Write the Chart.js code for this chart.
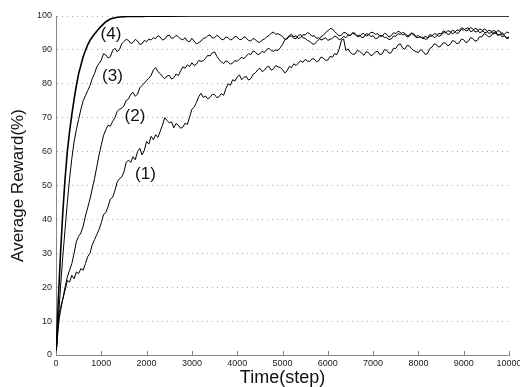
<!DOCTYPE html>
<html><head><meta charset="utf-8">
<script src="https://cdn.jsdelivr.net/npm/chart.js@4.4.1/dist/chart.umd.min.js"></script>
<style>html,body{margin:0;padding:0;background:#fff;}#c{display:block;}</style>
</head><body>
<canvas id="c" width="520" height="387"></canvas>
<script>
// steps for curves (1)-(3): dense sampling
const stepsFine = [0,25,50,75,100,150,200,250,300,350,400,450,500,550,600,650,700,750,800,850,900,950,
1000,1050,1100,1150,1200,1250,1300,1350,1400,1450,
1500,1550,1600,1650,1700,1750,1800,1850,1900,1950,
2000,2050,2100,2150,2200,2250,2300,2350,2400,2450,
2500,2550,2600,2650,2700,2750,2800,2850,2900,2950,
3000,3050,3100,3150,3200,3250,3300,3350,3400,3450,
3500,3550,3600,3650,3700,3750,3800,3850,3900,3950,
4000,4050,4100,4150,4200,4250,4300,4350,4400,4450,
4500,4550,4600,4650,4700,4750,4800,4850,4900,4950,
5000,5050,5100,5150,5200,5250,5300,5350,5400,5450,
5500,5550,5600,5650,5700,5750,5800,5850,5900,5950,
6000,6050,6100,6150,6200,6250,6300,6350,6400,6450,
6500,6550,6600,6650,6700,6750,6800,6850,6900,6950,
7000,7050,7100,7150,7200,7250,7300,7350,7400,7450,
7500,7550,7600,7650,7700,7750,7800,7850,7900,7950,
8000,8050,8100,8150,8200,8250,8300,8350,8400,8450,
8500,8550,8600,8650,8700,8750,8800,8850,8900,8950,
9000,9050,9100,9150,9200,9250,9300,9350,9400,9450,
9500,9550,9600,9650,9700,9750,9800,9850,9900,9950,
10000];

const curve1 = [0,5,10,12.5,14,16.5,19,22,21.5,23.5,22.5,24.5,24,25.5,25,27,29,30,32.5,34,35.5,37,
39,41.5,42,43.8,46,46.5,48.5,51,52,52.5,
54,56.8,57.5,56.8,58.5,57.6,60,61,59,60.4,
63,62.2,64.5,63.5,65,64.2,66,67.8,70,69.2,
68.5,68.8,67,68.3,67.8,66.9,67.2,68.4,68,70.2,
72.5,73.1,74.5,76.2,77.2,76,76.4,75.6,76,76.9,
76.8,75.9,76.2,77.1,76.6,78.6,80,79.6,81.2,80.8,
82,82.6,81.2,81.9,82.2,81.1,81.5,82.8,83.2,84.1,
84.6,83.6,84,84.9,85.2,84,84.4,85.4,85,84.8,
84.2,83.2,83.8,85.1,84.8,85.9,85.4,86.1,86.8,86.3,
87.2,86.7,86.6,87.4,87.3,86.5,86.8,87.9,87.6,86.9,
87,88.1,87.8,88.9,88.6,90.2,92.8,93.2,89.8,90.3,
89.2,88.7,88.8,89.8,89.6,89,88.4,89.5,89.2,88.3,
88.6,89.4,89.6,88.6,88.8,90.1,89.9,89,89.2,90.5,
90.4,91.5,91.8,90.6,90.2,91.3,91.2,90.3,89.8,89.5,
89.2,90.1,89.6,88.7,88.9,90.4,90.8,91.8,91.5,90.8,
91.2,92.1,92,91.2,91.6,92.7,92.6,91.8,92.1,93.2,
93,92.1,92.5,93.6,93.4,92.6,92.8,93.9,93.8,94.8,
94.5,93.8,94.1,95,95.3,94.3,94.6,93.8,94.2,93.3,
93.6];

const curve2 = [0,4,8,11,13,16.5,20,23,25,27,30,33.5,35,36,38,41,43.5,46,49,52,55.5,59,
62,64.8,66.5,67.8,67.5,68.9,70,71.8,72.5,72.8,
73.5,75.1,75.5,76.9,77.5,76.3,77,78.8,79.5,80.2,
81,81.6,82.5,84.1,84.8,83.6,83,82.1,81.5,82.3,
82.5,81.4,81.8,82.9,82.4,83.8,85,84.6,85.6,85.1,
86.2,85.4,85.8,86.9,86.6,86.8,87.5,88.4,88.2,89.1,
89.4,88.1,87.2,86.4,86,86.8,86.4,85.8,86.1,86.9,
86.6,87.3,87.8,87.4,88.2,88.9,88.6,89.7,89.4,88.6,
88.8,89.6,89.2,90.1,90.5,89.8,89.6,90,89.8,90.6,
91.6,92.9,93.6,94.2,94.6,93.8,94.2,93.4,93.6,94.5,
94.4,95.1,94.8,94,94.2,93.4,93.6,92.9,93.2,93.6,
92.8,93.1,93.4,94.1,93.8,93,93.2,94,93.6,94.4,
94.3,95.1,94.9,94.1,94.4,93.6,93.8,94.8,94.6,93.9,
94.2,93.3,93.5,94.3,94,94.9,94.6,93.8,94.2,95.1,
94.8,95.5,95.2,94.4,94.6,93.8,94,94.9,94.4,93.6,
93.7,93.9,93.2,94.1,93.6,94.5,94.3,93.6,94,94.9,
94.7,95.6,95.3,94.5,94.8,95.8,95.5,94.8,95.2,96.1,
95.8,96.3,96.5,95.4,95.6,96.4,96.1,95.1,95.3,96.2,
95.8,94.9,95,95.8,95.5,94.4,94.5,95.1,94.2,93.6,
93.8];

const curve3 = [0,5,10,15,20,29,37,45,52,58,63,66.5,69.5,72.5,75,76.5,78,79.5,81.5,83,85,86,
87,88.9,88.5,87.6,88,89.8,90.5,89.5,90,91.8,
92.5,93.1,92.8,91.9,92.2,93.1,92.6,91.6,91.8,92.8,
92.4,93.2,92.9,93.6,93.3,94.2,93.8,92.9,93.2,94.1,
94.4,93.4,93.6,94.3,93.9,93.2,93,93.6,92.6,92.4,
93.4,92.6,91.8,92.1,92.6,93.4,93.5,94.2,94.4,93.5,
93.6,94.3,93.9,93.1,93,93.8,93.6,92.9,93.2,94,
93.8,93,93.1,93.9,93.5,92.8,92.6,93.4,93,92.4,
92.2,92.9,93.2,93.8,94.2,94.9,95.3,94.6,94.8,94.4,
94,93.1,93.2,94,94.1,93.4,93.3,94.3,94.5,93.6,
93.4,92.8,92.5,91.9,91.6,92.4,93,93.9,94.3,95.1,
95.6,96.3,96.2,95.4,94.8,94.1,94.3,95.2,95,94.4,
94.2,94.9,94.6,93.9,94,94.7,94.8,94.1,94.4,95.2,
95.1,94.6,94.8,94,94.2,93.7,93.6,93.1,93.2,94.1,
94,94.8,94.5,95.2,94.9,94.2,94.4,95,94.7,94,
94.2,93.6,93.8,93.1,93.3,94,94.1,94.8,94.6,94,
94.3,95.1,95,95.7,95.4,94.8,95.1,95.9,95.7,96.5,
96.3,95.6,95.8,96.6,96.2,95.3,95.4,96.2,95.9,95.2,
95.1,95.8,95.6,94.7,94.8,95.7,95.5,94.4,94.6,95.3,
95];

// steps for curve (4): smooth, coarser sampling
const stepsCoarse = [0,25,50,75,100,150,200,250,300,350,400,450,500,550,600,650,700,750,800,850,900,950,1000,
1100,1200,1300,1400,1500,1600,1700,1800,1900,2000,
2500,3000,4000,5000,6000,7000,8000,9000,10000];
const curve4 = [0,8,16,23,30,42,52,60,66,71,75.5,79.5,83,85.5,88,89.8,91.5,92.8,93.8,94.7,95.5,96.3,97,
98.3,99.1,99.5,99.7,99.8,99.85,99.9,99.9,99.9,99.95,
99.95,100,100,100,100,100,100,100,100];

const labelText = ['(1)','(2)','(3)','(4)'];
const labelX = [1976,1744,1247,1214];
const labelY = [53.2,70.5,82.3,94.7];

const xTicks = [0,1000,2000,3000,4000,5000,6000,7000,8000,9000,10000];

function pts(xs, vals){ return xs.map((s,i)=>({x:s,y:vals[i]})); }

const annot = {
  id:'annot',
  afterDatasetsDraw(chart){
    const {ctx, scales:{x,y}} = chart;
    ctx.save();
    ctx.strokeStyle = '#888'; ctx.lineWidth = 1;
    xTicks.forEach(v=>{
      const px = Math.round(x.getPixelForValue(v))+0.5;
      ctx.beginPath(); ctx.moveTo(px, y.bottom); ctx.lineTo(px, y.bottom-4); ctx.stroke();
    });
    ctx.fillStyle = '#111';
    ctx.font = '17px "Liberation Sans", Arial, sans-serif';
    ctx.textAlign = 'center'; ctx.textBaseline = 'middle';
    labelText.forEach((t,i)=>{
      ctx.fillText(t, x.getPixelForValue(labelX[i]), y.getPixelForValue(labelY[i]));
    });
    ctx.restore();
  }
};

const mk = (xs,d,w)=>({data:pts(xs,d), borderColor:'#000', borderWidth:w, pointRadius:0, tension:0, fill:false});

new Chart(document.getElementById('c'), {
  type:'line',
  data:{ datasets:[ mk(stepsFine,curve1,1), mk(stepsFine,curve2,1), mk(stepsFine,curve3,1), mk(stepsCoarse,curve4,1.6) ] },
  options:{
    responsive:false, animation:false, events:[],
    layout:{ padding:{left:0, right:11, top:16, bottom:0} },
    plugins:{ legend:{display:false}, tooltip:{enabled:false} },
    scales:{
      x:{ type:'linear', min:0, max:10000,
        afterBuildTicks(s){ s.ticks = xTicks.map(v=>({value:v})); },
        afterFit(s){ s.height = 32; s.paddingLeft = 0; s.paddingRight = 0; },
        grid:{ display:false, drawTicks:false },
        border:{ display:true, color:'#888', width:1 },
        ticks:{ padding:3, color:'#222', maxRotation:0, autoSkip:false,
          callback:(v)=>String(v),
          font:{ family:'"Liberation Sans", Arial, sans-serif', size:9 } },
        title:{ display:true, text:'Time(step)', color:'#111', padding:{top:0,bottom:0},
          font:{ family:'"Liberation Sans", Arial, sans-serif', size:18, lineHeight:1 } }
      },
      y:{ min:0, max:100,
        afterFit(s){ s.width = 56; },
        ticks:{ stepSize:10, padding:4, color:'#222',
          font:{ family:'"Liberation Sans", Arial, sans-serif', size:9 } },
        grid:{ color:'#aaa', drawTicks:false, lineWidth:1 },
        border:{ display:true, color:'#888', width:1, dash:[1,4] },
        title:{ display:true, text:'Average Reward(%)', color:'#111', padding:{top:9.5,bottom:0},
          font:{ family:'"Liberation Sans", Arial, sans-serif', size:17, lineHeight:1 } }
      }
    }
  },
  plugins:[annot]
});
</script>
</body></html>
